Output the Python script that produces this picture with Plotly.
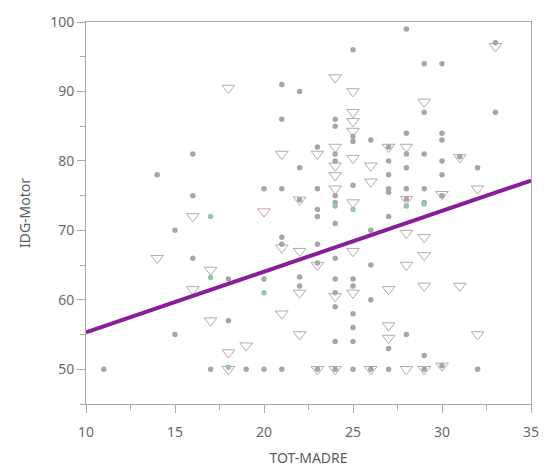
import plotly.graph_objects as go

# Open triangles (group 1)
tri_x = [14, 16, 16, 17, 17, 18, 18, 18, 19, 20, 21, 21, 21, 22, 22, 22, 22, 23, 23, 23,
         24, 24, 24, 24, 24, 24, 24, 25, 25, 25, 25, 25, 25, 25, 25, 26, 26, 26,
         27, 27, 27, 27, 28, 28, 28, 28, 28, 29, 29, 29, 29, 29, 30, 30, 31, 31, 32, 32, 33]
tri_y = [66, 72, 61.5, 64.3, 57, 90.5, 52.4, 50, 53.4, 72.7, 81, 67.5, 58, 74.4, 67, 61, 55, 81, 65, 50,
         92, 82, 79.3, 77.9, 76, 60.5, 50, 90, 87, 85.7, 84.3, 80.4, 74, 67, 61, 79.3, 77, 50,
         82, 61.5, 56.3, 54.5, 82, 74.5, 69.6, 65, 50, 88.5, 69, 66.4, 62, 50, 75.2, 50.5, 80.5, 62, 76, 55, 96.5]

# Filled circles, grey (group 2)
cir_x = [11, 14, 15, 15, 16, 16, 16, 17, 18, 18, 19, 20, 20, 20, 21, 21, 21, 21, 21, 21,
         22, 22, 22, 22, 22, 23, 23, 23, 23, 23, 23, 23,
         24, 24, 24, 24, 24, 24, 24, 24, 24, 24, 24, 24, 24,
         25, 25, 25, 25, 25, 25, 25, 25, 25, 25,
         26, 26, 26, 26, 26,
         27, 27, 27, 27, 27, 27, 27, 27,
         28, 28, 28, 28, 28, 28, 28,
         29, 29, 29, 29, 29, 29, 29,
         30, 30, 30, 30, 30, 30, 30,
         31, 32, 32, 33, 33]
cir_y = [50, 78, 70, 55, 81, 75, 66, 50, 63, 57, 50, 63, 76, 50, 91, 86, 76, 69, 68, 50,
         90, 79, 74.4, 63.3, 62, 82, 76, 73, 72, 68, 65.3, 50,
         86, 85, 81, 80, 75, 74, 71, 66, 63, 61, 59, 54, 50,
         96, 83.5, 82.8, 76.5, 63, 62, 58, 56, 54, 50,
         83, 70, 65, 60, 50,
         82, 80, 78, 76, 75.5, 72, 53, 50,
         99, 84, 81, 79, 76, 74.5, 55,
         94, 87, 81, 76, 74, 52, 50,
         94, 84, 83, 80, 78, 75, 50.5,
         80.6, 79, 50, 97, 87]

# Filled circles, green tint (group 3)
grn_x = [17, 17, 18, 20, 24, 25, 28, 29]
grn_y = [63.2, 72, 50.3, 61, 73.5, 73, 73.5, 73.8]

# Fitted line
fit_intercept = 55.3   # value at x = 10
fit_slope = 0.875
fit_x = [10, 35]
fit_y = [fit_intercept + fit_slope * (x - 10) for x in fit_x]

fig = go.Figure()
fig.add_trace(go.Scatter(x=tri_x, y=tri_y, mode="markers",
                         marker=dict(symbol="triangle-down-open", size=11,
                                     color="#bca6ab", line=dict(width=1))))
fig.add_trace(go.Scatter(x=cir_x, y=cir_y, mode="markers",
                         marker=dict(symbol="circle", size=5.5, color="#aaa4a7")))
fig.add_trace(go.Scatter(x=grn_x, y=grn_y, mode="markers",
                         marker=dict(symbol="circle", size=5.5, color="#93c9a6")))
fig.add_trace(go.Scatter(x=fit_x, y=fit_y, mode="lines",
                         line=dict(color="#8a1d9a", width=4)))

axis_common = dict(showgrid=False, zeroline=False, showline=True, linecolor="#a9a9a9",
                   linewidth=1, mirror=True, ticks="outside", ticklen=8, tickcolor="#a9a9a9",
                   tickfont=dict(family="Noto Sans", size=14, color="#6a6a6a"))

fig.update_layout(
    width=555, height=476,
    margin=dict(l=86, r=24, t=15, b=70),
    paper_bgcolor="white", plot_bgcolor="white",
    showlegend=False,
    xaxis=dict(range=[10, 35], tickvals=[10, 15, 20, 25, 30, 35],
               ticklabelstandoff=7,
               minor=dict(ticks="outside", ticklen=5, dtick=2.5, tick0=10, tickcolor="#a9a9a9"),
               title=dict(text="TOT-MADRE", standoff=13,
                          font=dict(family="Noto Sans", size=14, color="#5c5c5c")),
               **axis_common),
    yaxis=dict(range=[45, 100], tickvals=[50, 60, 70, 80, 90, 100],
               minor=dict(ticks="outside", ticklen=5, dtick=5, tick0=45, tickcolor="#a9a9a9"),
               title=dict(text="IDG-Motor", standoff=16,
                          font=dict(family="Noto Sans", size=14, color="#5c5c5c")),
               **axis_common),
)

fig.write_html("out.html", config={"displayModeBar": False},
               post_script="document.body.style.margin='0';")
